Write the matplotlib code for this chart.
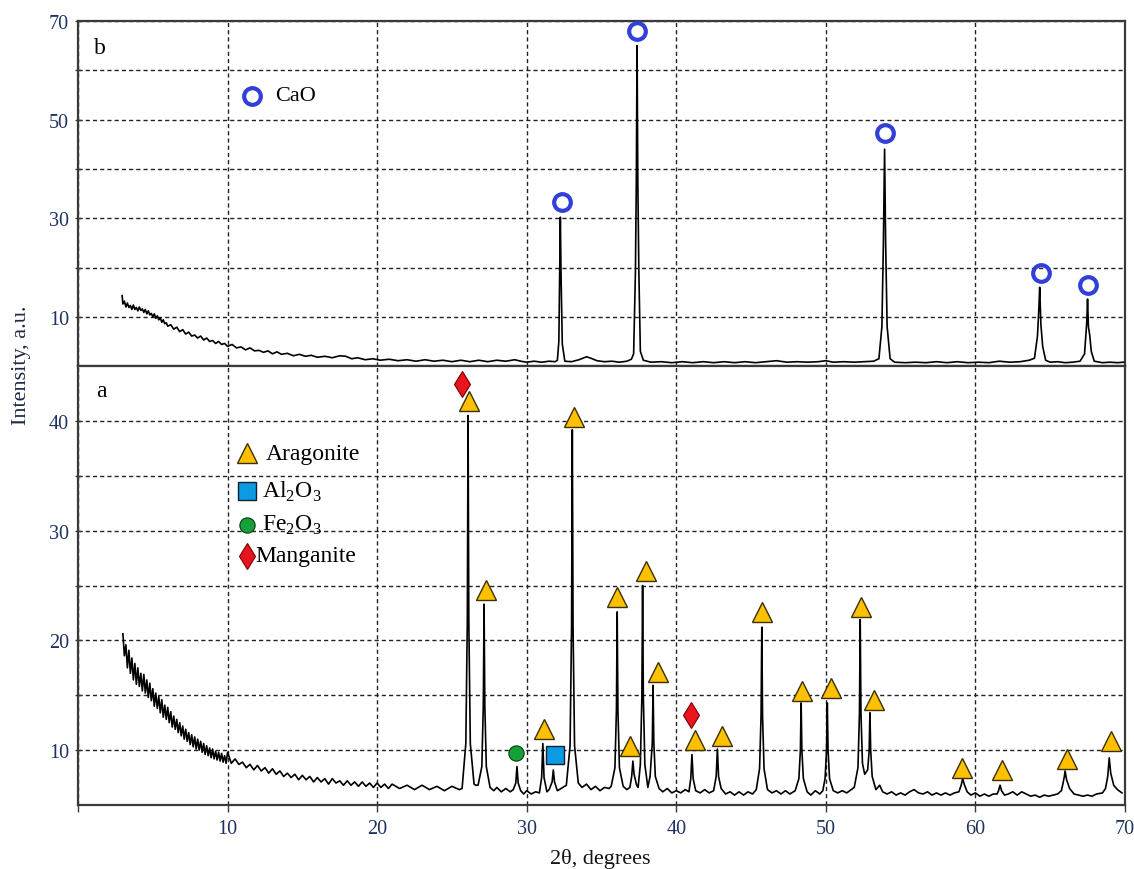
import matplotlib
matplotlib.use("Agg")
import matplotlib.pyplot as plt

plt.rcParams['font.family'] = ['Liberation Serif', 'DejaVu Serif']
plt.rcParams['mathtext.fontset'] = 'custom'
plt.rcParams['mathtext.rm'] = 'Liberation Serif'

# ---------------- data: pattern (b) calcined, CaO ----------------
tt_b = [2.95, 3.0, 3.1, 3.2, 3.3, 3.4, 3.5, 3.6, 3.7, 3.8, 3.9, 4.0, 4.1, 4.2, 4.3, 4.4, 4.5,
        4.6, 4.7, 4.8, 4.9, 5.0, 5.1, 5.2, 5.3, 5.4, 5.5, 5.6, 5.7, 5.8, 5.9, 6.0, 6.2, 6.4,
        6.6, 6.8, 7.0, 7.2, 7.4, 7.6, 7.8, 8.0, 8.2, 8.4, 8.6, 8.8, 9.0, 9.2, 9.4, 9.6, 9.8,
        10.0, 10.3, 10.6, 10.9, 11.2, 11.5, 11.8, 12.1, 12.4, 12.7, 13.0, 13.3, 13.6, 14.0,
        14.4, 14.8, 15.2, 15.6, 16.0, 16.5, 17.0, 17.5, 17.9, 18.3, 18.7, 19.2, 19.7, 20.2,
        20.8, 21.4, 22.0, 22.6, 23.2, 23.8, 24.4, 25.0, 25.6, 26.2, 26.8, 27.4, 28.0, 28.6,
        29.2, 29.6, 30.0, 30.5, 31.0, 31.5, 31.9,
        32.05, 32.15, 32.2, 32.25, 32.3, 32.38, 32.55,
        33.0, 33.5, 34.0, 34.3, 34.7, 35.2, 35.7, 36.2, 36.7, 37.0,
        37.15, 37.27, 37.33, 37.38, 37.43, 37.5, 37.6, 37.8,
        38.3, 39.0, 39.7, 40.4, 41.1, 41.8, 42.5, 43.2, 43.9, 44.6, 45.3, 46.0, 46.7, 47.4,
        48.1, 48.8, 49.5, 50.0, 50.5, 51.2, 51.9, 52.6, 53.2,
        53.55, 53.75, 53.85, 53.93, 54.0, 54.1, 54.3, 54.6,
        55.3, 56.0, 56.7, 57.4, 58.1, 58.8, 59.5, 60.2, 60.9, 61.6, 62.3, 63.0, 63.6,
        63.95, 64.15, 64.25, 64.3, 64.38, 64.5, 64.7,
        65.0, 65.5, 66.0, 66.5, 67.0,
        67.3, 67.45, 67.5, 67.56, 67.65, 67.75, 67.95,
        68.5, 69.0, 69.5, 69.9]
int_b = [14.3, 12.6, 13.2, 12.0, 12.8, 11.9, 12.3, 11.5, 12.4, 11.5, 11.9, 11.2, 12.0, 11.3, 11.6, 10.9, 11.5,
         10.6, 11.2, 10.4, 10.7, 10.0, 10.6, 9.7, 10.2, 9.4, 9.8, 8.9, 9.4, 8.6, 8.8, 8.1, 8.4, 7.5,
         7.9, 7.0, 7.4, 6.5, 6.9, 6.1, 6.3, 5.7, 6.1, 5.3, 5.7, 5.0, 5.2, 4.6, 5.0, 4.4, 4.6,
         4.0, 4.4, 3.7, 3.9, 3.3, 3.7, 3.1, 3.2, 2.8, 3.1, 2.5, 2.9, 2.4, 2.6,
         2.1, 2.4, 2.0, 2.2, 1.8, 2.0, 1.7, 2.1, 2.0, 1.5, 1.7, 1.3, 1.5, 1.2,
         1.4, 1.1, 1.3, 1.0, 1.3, 1.0, 1.2, 0.9, 1.2, 0.9, 1.2, 0.9, 1.2, 1.0,
         1.3, 1.0, 0.8, 1.0, 0.8, 1.0, 0.9,
         1.2, 5.0, 18.3, 30.2, 18.0, 4.5, 1.0,
         0.9, 1.3, 1.9, 1.6, 1.1, 0.9, 1.0, 0.8, 1.0, 1.4,
         2.5, 19.0, 37.6, 65.0, 37.6, 19.0, 3.0, 1.2,
         0.8, 0.9, 0.7, 0.9, 0.7, 0.9, 0.7, 0.9, 0.7, 0.9, 0.7, 0.9, 1.1, 0.8,
         0.9, 0.8, 0.9, 1.1, 0.8, 0.9, 0.8, 0.9, 1.0,
         1.5, 8.0, 25.0, 44.0, 25.0, 8.0, 1.5, 0.8,
         0.7, 0.8, 0.7, 0.9, 0.7, 0.9, 0.7, 0.8, 0.7, 1.0, 0.8, 0.9, 1.2,
         1.6, 6.0, 12.0, 16.0, 8.5, 4.0, 1.2,
         0.8, 0.9, 0.7, 0.8, 1.0,
         2.5, 9.0, 13.6, 8.0, 6.2, 3.0, 1.0,
         0.7, 0.8, 0.7, 0.8]

cao_tt = [32.33, 37.39, 53.94, 64.37, 67.53]
cao_int = [33.2, 67.9, 47.2, 18.9, 16.4]

# ---------------- data: pattern (a) raw shell ----------------
tt_a = [3.0, 3.1, 3.2, 3.3, 3.4, 3.5, 3.6, 3.7, 3.8, 3.9, 4.0, 4.1, 4.2, 4.3, 4.4, 4.5, 4.6,
        4.7, 4.8, 4.9, 5.0, 5.1, 5.2, 5.3, 5.4, 5.5, 5.6, 5.7, 5.8, 5.9, 6.0, 6.1, 6.2, 6.3,
        6.4, 6.5, 6.6, 6.7, 6.8, 6.9, 7.0, 7.1, 7.2, 7.3, 7.4, 7.5, 7.6, 7.7, 7.8, 7.9, 8.0,
        8.1, 8.2, 8.3, 8.4, 8.5, 8.6, 8.7, 8.8, 8.9, 9.0, 9.1, 9.2, 9.3, 9.4, 9.5, 9.6, 9.7,
        9.8, 9.9, 10.0,
        10.25, 10.5, 10.75, 11.0, 11.25, 11.5, 11.75, 12.0, 12.25, 12.5, 12.75, 13.0, 13.25,
        13.5, 13.75, 14.0, 14.25, 14.5, 14.75, 15.0, 15.25, 15.5, 15.75, 16.0, 16.25, 16.5,
        16.75, 17.0, 17.25, 17.5, 17.75, 18.0, 18.25, 18.5, 18.75, 19.0, 19.25, 19.5, 19.75,
        20.0, 20.25, 20.5, 20.75, 21.0, 21.5, 22.0, 22.5, 23.0, 23.5, 24.0, 24.5, 25.0, 25.5,
        25.68, 25.93, 26.03, 26.08, 26.13, 26.23, 26.48, 26.6,
        26.75, 27.0, 27.1, 27.15, 27.2, 27.3, 27.55,
        27.8, 28.0, 28.3, 28.6, 28.9,
        29.1, 29.27, 29.35, 29.43, 29.6,
        29.8, 30.0, 30.3, 30.6, 30.85,
        31.0, 31.08, 31.16, 31.35,
        31.5, 31.7, 31.78, 31.86, 32.05, 32.3,
        32.65, 32.9, 33.0, 33.05, 33.1, 33.2, 33.45,
        33.7, 34.0, 34.3, 34.6, 34.9, 35.2, 35.5,
        35.65, 35.9, 36.0, 36.05, 36.1, 36.2, 36.45, 36.7,
        36.9, 37.02, 37.1, 37.18, 37.35,
        37.45, 37.6, 37.7, 37.75, 37.8, 37.9, 38.1,
        38.25, 38.4, 38.45, 38.5, 38.6, 38.85,
        39.1, 39.4, 39.7, 40.0, 40.3, 40.6, 40.85,
        40.97, 41.05, 41.13, 41.3,
        41.6, 41.9, 42.2, 42.5,
        42.67, 42.75, 42.83, 43.0,
        43.3, 43.6, 43.9, 44.2, 44.5, 44.8, 45.1, 45.35,
        45.57, 45.67, 45.72, 45.77, 45.87, 46.1,
        46.4, 46.7, 47.0, 47.3, 47.6, 47.95,
        48.2, 48.3, 48.35, 48.4, 48.5, 48.75,
        49.0, 49.3, 49.6, 49.8,
        49.95, 50.05, 50.1, 50.15, 50.25, 50.5,
        50.8, 51.1, 51.4, 51.7, 51.9,
        52.15, 52.25, 52.3, 52.35, 52.45, 52.6,
        52.8, 52.9, 52.95, 53.0, 53.1, 53.35,
        53.6, 53.8, 54.1, 54.4, 54.7, 55.0, 55.3, 55.6, 55.9, 56.2, 56.5, 56.8, 57.1, 57.4,
        57.7, 58.0, 58.3, 58.6, 58.9,
        59.05, 59.15, 59.25, 59.45,
        59.7, 60.0, 60.3, 60.6, 60.9, 61.2, 61.45,
        61.55, 61.65, 61.75, 61.95,
        62.2, 62.5, 62.8, 63.1, 63.4, 63.7, 64.0, 64.3, 64.6, 64.9, 65.2, 65.5, 65.75,
        65.85, 65.95, 66.0, 66.1, 66.3,
        66.6, 66.9, 67.2, 67.5, 67.8, 68.1, 68.5, 68.7,
        68.85, 68.95, 69.05, 69.25, 69.5, 69.8]
int_a = [20.6, 18.6, 19.6, 17.5, 19.1, 17.0, 18.4, 16.4, 17.9, 16.0, 17.5, 15.8, 17.0, 15.4, 16.9, 15.2, 16.4,
         14.8, 16.1, 14.5, 15.6, 14.0, 15.2, 13.8, 14.9, 13.4, 14.6, 13.0, 14.1, 12.8, 13.9, 12.5, 13.5, 12.1,
         13.1, 11.9, 12.8, 11.6, 12.5, 11.3, 12.2, 11.0, 11.9, 10.8, 11.6, 10.5, 11.4, 10.3, 11.2, 10.1, 11.0,
         10.0, 10.8, 9.8, 10.6, 9.6, 10.4, 9.5, 10.2, 9.3, 10.1, 9.2, 9.9, 9.1, 9.8, 9.0, 9.7, 8.9,
         9.5, 8.8, 9.8,
         8.8, 9.2, 8.7, 8.9, 8.4, 8.7, 8.2, 8.6, 8.1, 8.4, 7.9, 8.3, 7.8,
         8.1, 7.6, 7.9, 7.5, 7.8, 7.3, 7.7, 7.3, 7.6, 7.1, 7.5, 7.1, 7.4,
         6.9, 7.4, 7.0, 7.2, 6.8, 7.2, 6.8, 7.1, 6.7, 7.1, 6.7, 7.0, 6.6,
         7.0, 6.6, 6.9, 6.5, 6.9, 6.5, 6.8, 6.4, 6.8, 6.4, 6.7, 6.3, 6.7, 6.4,
         6.5, 10.6, 21.8, 40.5, 21.8, 10.6, 6.9, 6.8,
         6.8, 8.5, 14.1, 23.3, 14.1, 8.5, 6.6,
         6.3, 6.6, 6.2, 6.5, 6.2,
         6.4, 7.0, 8.5, 7.0, 6.3,
         6.0, 6.3, 6.0, 6.2, 6.1,
         7.5, 10.6, 7.5, 6.2,
         6.4, 7.1, 8.2, 7.1, 6.3, 6.5,
         6.8, 10.4, 21.2, 39.2, 21.2, 10.4, 7.0,
         6.6, 6.9, 6.4, 6.7, 6.3, 6.6, 6.5,
         6.7, 8.4, 13.7, 22.6, 13.7, 8.4, 6.7, 6.4,
         6.6, 7.6, 9.0, 7.8, 6.8,
         6.6, 8.7, 14.8, 25.0, 14.8, 8.7, 6.6,
         7.6, 10.7, 15.9, 10.7, 7.6, 6.5,
         6.2, 6.5, 6.1, 6.3, 6.1, 6.4, 6.2,
         7.4, 9.6, 7.4, 6.3,
         6.1, 6.4, 6.1, 6.3,
         7.6, 10.1, 7.6, 6.5,
         6.0, 6.2, 5.9, 6.2, 5.9, 6.2, 6.0, 6.4,
         8.3, 13.1, 21.2, 13.1, 8.3, 6.4,
         6.1, 6.3, 6.0, 6.3, 6.0, 6.3,
         7.4, 10.0, 14.3, 10.0, 7.4, 6.2,
         5.9, 6.3, 6.0, 6.3,
         7.4, 10.0, 14.3, 10.0, 7.4, 6.3,
         6.1, 6.3, 6.1, 6.4, 6.6,
         8.4, 13.4, 21.9, 13.4, 8.8, 7.8,
         8.2, 10.0, 13.4, 10.0, 7.6, 6.4,
         6.8, 6.2, 6.0, 6.2, 5.9, 6.1, 5.9, 6.2, 6.4, 6.1, 6.0, 6.2, 5.9, 6.1,
         5.9, 6.1, 5.9, 6.1, 6.2,
         6.8, 7.4, 6.9, 6.2,
         5.9, 6.1, 5.8, 6.0, 5.8, 6.0, 6.0,
         6.3, 6.8, 6.3, 5.9,
         6.0, 6.2, 5.9, 6.2, 6.0, 5.8, 5.9, 5.7, 5.9, 5.8, 5.9, 6.0, 6.3,
         6.9, 7.6, 8.1, 7.3, 6.5,
         6.0, 5.9, 5.8, 5.9, 5.8, 6.0, 6.1, 6.5,
         7.6, 9.3, 7.9, 6.8, 6.4, 6.1]

arag_tt = [26.14, 27.27, 33.16, 31.15, 36.03, 36.9, 37.97, 38.77, 41.24, 43.05,
           45.72, 48.40, 50.33, 52.33, 53.21, 59.09, 61.76, 66.11, 69.05]
arag_int = [41.8, 24.6, 40.4, 11.9, 24.0, 10.4, 26.3, 17.1, 10.9, 11.3,
            22.6, 15.4, 15.7, 23.0, 14.6, 8.4, 8.15, 9.15, 10.8]
mang_tt = [25.65, 40.96]
mang_int = [43.4, 13.2]
fe2o3_tt = [29.26]
fe2o3_int = [9.7]
al2o3_tt = [31.9]
al2o3_int = [9.55]

x_ticks = [0, 10, 20, 30, 40, 50, 60, 70]
x_ticklabels = ['', '10', '20', '30', '40', '50', '60', '70']
yb_ticks = [10, 20, 30, 40, 50, 60, 70]
yb_ticklabels = ['10', '', '30', '', '50', '', '70']
ya_ticks = [10, 15, 20, 25, 30, 35, 40]
ya_ticklabels = ['10', '', '20', '', '30', '', '40']

# ---------------- styles ----------------
TICKC = '#1f3260'
SPINEC = '#3a3a3a'
grid_kw = dict(color='#222222', linestyle=(0, (3, 2.2)), linewidth=1.0)

ARAG = dict(marker='^', ms=15, mfc='#FFC000', mec='#3a3000', mew=1.0, ls='none', zorder=5, clip_on=False)
MANG = dict(marker='d', ms=13, mfc='#E8141E', mec='#7a0000', mew=0.8, ls='none', zorder=5, clip_on=False)
FE = dict(marker='o', ms=11, mfc='#16A03A', mec='#0a3a10', mew=0.8, ls='none', zorder=5, clip_on=False)
AL = dict(marker='s', ms=13, mfc='#0A9BE3', mec='#102030', mew=1.0, ls='none', zorder=5, clip_on=False)
CAO = dict(marker='o', ms=12, mfc='none', mec='#3040D8', mew=3.0, ls='none', zorder=5, clip_on=False)

fig = plt.figure(figsize=(11.34, 8.70), dpi=100)
ax_b = fig.add_axes([0.0688, 0.578, 0.9232, 0.3967])
ax_a = fig.add_axes([0.0688, 0.0736, 0.9232, 0.5044])

for ax in (ax_b, ax_a):
    ax.set_xlim(0, 70)
    for s in ax.spines.values():
        s.set_color(SPINEC)
        s.set_linewidth(1.6)
    ax.set_xticks(x_ticks)
    ax.grid(True, **grid_kw)
    ax.set_axisbelow(True)
    ax.tick_params(axis='y', direction='inout', length=5, width=1, color=SPINEC,
                   labelsize=14.5, labelcolor=TICKC, pad=4)
    ax.tick_params(axis='x', direction='out', length=5, width=1, color=SPINEC,
                   labelsize=14.5, labelcolor=TICKC, pad=5)

# top panel (b)
ax_b.set_ylim(0, 70)
ax_b.set_yticks(yb_ticks)
ax_b.set_yticklabels(yb_ticklabels)
ax_b.tick_params(axis='x', labelbottom=False, length=0)
ax_b.plot(tt_b, int_b, color='black', lw=1.2, zorder=3)
ax_b.plot(cao_tt, cao_int, **CAO)
ax_b.text(1.43, 64.7, 'b', fontsize=17, ha='center', va='center')
ax_b.plot([11.6], [54.85], **CAO)
ax_b.text(13.2, 54.85, 'CaO', fontsize=16, ha='left', va='center')

# bottom panel (a)
ax_a.set_ylim(5, 45)
ax_a.set_yticks(ya_ticks)
ax_a.set_yticklabels(ya_ticklabels)
ax_a.set_xticklabels(x_ticklabels)
ax_a.plot(tt_a, int_a, color='black', lw=1.2, zorder=3)
ax_a.plot(arag_tt, arag_int, **ARAG)
ax_a.plot(mang_tt, mang_int, **MANG)
ax_a.plot(fe2o3_tt, fe2o3_int, **FE)
ax_a.plot(al2o3_tt, al2o3_int, **AL)
ax_a.text(1.54, 42.8, 'a', fontsize=17, ha='center', va='center')

# in-panel key
ax_a.plot([11.32], [37.06], **ARAG)
ax_a.text(12.55, 37.06, 'Aragonite', fontsize=17, ha='left', va='center')
ax_a.plot([11.28], [33.6], **AL)
ax_a.text(12.28, 33.6, r'Al$_{\mathregular{2}}$O$_{\mathregular{3}}$', fontsize=17, ha='left', va='center')
ax_a.plot([11.28], [30.55], **FE)
ax_a.text(12.3, 30.55, r'Fe$_{\mathregular{2}}$O$_{\mathregular{3}}$', fontsize=17, ha='left', va='center')
ax_a.plot([11.3], [27.7], **MANG)
ax_a.text(11.83, 27.7, 'Manganite', fontsize=17, ha='left', va='center')

fig.text(0.019, 0.58, 'Intensity, a.u.', rotation=90, fontsize=16, color='#1f2a48',
         ha='center', va='center')
fig.text(0.529, 0.0126, '2θ, degrees', fontsize=16, color='#151515', ha='center', va='center')

fig.savefig('out.png', dpi=100)
